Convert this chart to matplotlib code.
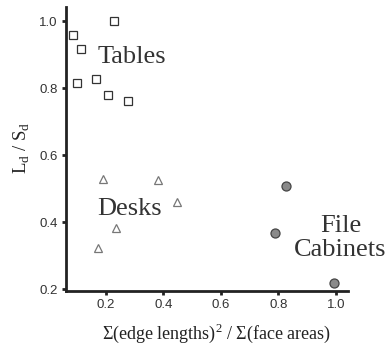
import matplotlib
matplotlib.use("Agg")
import matplotlib.pyplot as plt

# values
tables_x = [0.086, 0.114, 0.230, 0.100, 0.166, 0.207, 0.279]
tables_y = [0.958, 0.918, 1.000, 0.816, 0.827, 0.779, 0.762]
desks_x = [0.192, 0.382, 0.447, 0.236, 0.174]
desks_y = [0.530, 0.527, 0.461, 0.383, 0.323]
cab_x = [0.826, 0.789, 0.995]
cab_y = [0.507, 0.367, 0.219]
ticks = [0.2, 0.4, 0.6, 0.8, 1.0]

serif = ['Liberation Serif', 'DejaVu Serif']
tickfont = ['Liberation Sans Narrow', 'Liberation Sans', 'DejaVu Sans']
plt.rcParams['mathtext.fontset'] = 'custom'
plt.rcParams['mathtext.rm'] = 'Liberation Serif'

fig = plt.figure(figsize=(3.89, 3.49), dpi=100)
ax = fig.add_axes([0.169, 0.167, 0.726, 0.813])

ax.plot(tables_x, tables_y, 's', ls='none', ms=6.2, mfc='white', mec='#333333', mew=0.9)
ax.plot(desks_x, desks_y, '^', ls='none', ms=6.2, mfc='white', mec='#777777', mew=0.9)
ax.plot(cab_x, cab_y, 'o', ls='none', ms=6.5, mfc='#8a8a8a', mec='#444444', mew=0.9)

ax.set_xlim(0.061, 1.043)
ax.set_ylim(0.196, 1.042)
ax.set_xticks(ticks)
ax.set_yticks(ticks)
ax.set_xticklabels(['%.1f' % t for t in ticks], family=tickfont, fontsize=9.5, color='#333333')
ax.set_yticklabels(['%.1f' % t for t in ticks], family=tickfont, fontsize=9.5, color='#333333')
ax.tick_params(direction='out', length=3, width=2, color='#222222', pad=3)

for s in ['top', 'right']:
    ax.spines[s].set_visible(False)
for s in ['left', 'bottom']:
    ax.spines[s].set_linewidth(2)
    ax.spines[s].set_color('#222222')

tx = dict(family=serif, fontsize=19, color='#333333')
ax.text(0.170, 0.875, 'Tables', **tx)
ax.text(0.172, 0.421, 'Desks', **tx)
ax.text(0.945, 0.371, 'File', **tx)
ax.text(0.855, 0.299, 'Cabinets', **tx)

fig.text(0.055, 0.576, r'L$_\mathregular{d}$ / S$_\mathregular{d}$', rotation=90,
         family=serif, fontsize=13.5, color='#222222', ha='center', va='center')
fig.text(0.556, 0.045, r'$\Sigma$(edge lengths)$^\mathregular{2}$ / $\Sigma$(face areas)',
         family=serif, fontsize=13, color='#222222', ha='center', va='center')

fig.savefig('out.png', dpi=100)
